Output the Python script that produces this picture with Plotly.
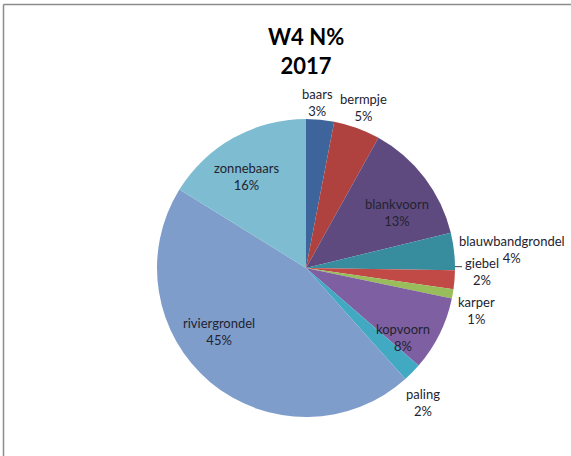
import math
import plotly.graph_objects as go

# Fish species share (N%) at W4, 2017
species = ["baars", "bermpje", "blankvoorn", "blauwbandgrondel", "giebel",
           "karper", "kopvoorn", "paling", "riviergrondel", "zonnebaars"]
share = [3, 5, 13, 4, 2, 1, 8, 2, 45, 16]

colors = ["#3D659B", "#AF423F", "#5F4A80", "#378C9E", "#C24A46",
          "#98BD5A", "#7E60A2", "#42A9C3", "#7F9DCB", "#7EBCD1"]

# label placement per slice: (angle shift from slice middle in deg,
# distance from centre in px, horizontal anchor)
label_place = [(-1.6, 166, "center"), (-0.3, 171, "center"),
               (5.9, 106, "center"), (-0.7, 152, "left"),
               (-3.2, 157, "left"), (5.9, 156, "left"),
               (9.3, 119, "center"), (4.3, 178, "center"),
               (14.0, 108, "center"), (-3.9, 109, "center")]
leader_lines = ["giebel"]

W, H = 571, 456
cx, cy, r = 306, 268, 149
FONT = "Lato"
TEXT_COLOR = "#23232f"

fig = go.Figure(go.Pie(
    labels=species,
    values=share,
    sort=False,
    direction="clockwise",
    rotation=0,
    marker=dict(colors=colors, line=dict(width=0)),
    textinfo="none",
    domain=dict(x=[(cx - r) / W, (cx + r) / W],
                y=[(H - cy - r) / H, (H - cy + r) / H]),
    showlegend=False,
    hoverinfo="label+percent",
))

total = sum(share)
annotations = [dict(
    text="<b>W4 N%<br>2017</b>",
    x=cx / W, y=1 - 51 / H, xref="paper", yref="paper",
    xanchor="center", yanchor="middle", showarrow=False,
    font=dict(family=FONT, size=22, color="#000000"),
)]
shapes = [
    dict(type="line", xref="paper", yref="paper",
         x0=3.5 / W, x1=1.0, y0=1 - 4.5 / H, y1=1 - 4.5 / H,
         line=dict(color="#8C8C8C", width=1.5)),
    dict(type="line", xref="paper", yref="paper",
         x0=3.5 / W, x1=3.5 / W, y0=0, y1=1 - 4.5 / H,
         line=dict(color="#8C8C8C", width=1.5)),
]

cum = 0.0
for name, v, (shift, dist, anchor) in zip(species, share, label_place):
    mid = (cum + v / 2) / total * 360.0
    cum += v
    a = math.radians(mid + shift)
    px = cx + dist * math.sin(a)
    py = cy - dist * math.cos(a)
    pct = round(v / total * 100)
    annotations.append(dict(
        text=f"{name}<br>{pct}%",
        x=px / W, y=1 - py / H, xref="paper", yref="paper",
        xanchor=anchor, yanchor="middle", align="center", showarrow=False,
        font=dict(family=FONT, size=13, color=TEXT_COLOR),
    ))
    if name in leader_lines:
        ly = py - 5
        lx0 = cx + math.sqrt(max(r * r - (ly - cy) ** 2, 0))
        shapes.append(dict(
            type="line", xref="paper", yref="paper",
            x0=lx0 / W, x1=(px - 1) / W, y0=1 - ly / H, y1=1 - ly / H,
            line=dict(color="#404040", width=1),
        ))

fig.update_layout(
    width=W, height=H,
    margin=dict(l=0, r=0, t=0, b=0),
    paper_bgcolor="white",
    annotations=annotations,
    shapes=shapes,
)

fig.write_html("out.html")
